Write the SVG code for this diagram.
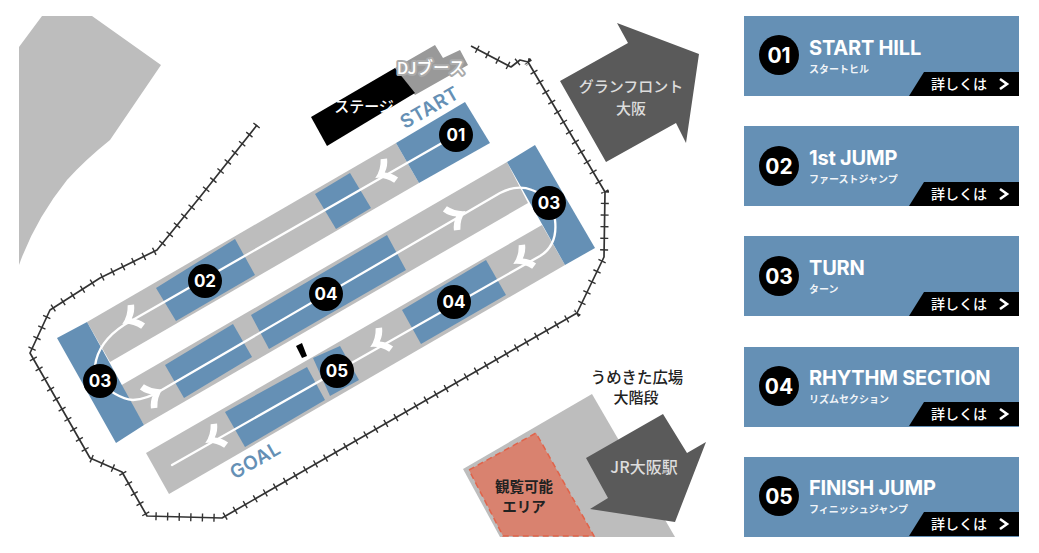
<svg xmlns="http://www.w3.org/2000/svg" xmlns:xlink="http://www.w3.org/1999/xlink" width="1039" height="553" viewBox="0 0 1039 553">
<defs>
<style>
.gray{fill:#bdbdbd}
.blue{fill:#6590b5}
.dark{fill:#5a5a5a}
.route{fill:none;stroke:#fff;stroke-width:2.3;stroke-linecap:round;stroke-linejoin:round}
.rail{fill:none;stroke:#333;stroke-width:1.7;stroke-linejoin:round}
.ties{fill:none;stroke:#333;stroke-width:8;stroke-dasharray:1.4 10.2}
.t{font-family:"Noto Sans CJK JP","Noto Sans",sans-serif;text-anchor:middle}
.badge{fill:#000}
.num{font-family:Inter,"Liberation Sans",sans-serif;font-weight:700;fill:#fff;text-anchor:middle;dominant-baseline:central}
.m{font-size:17px}
.c{font-size:21px}
.title{font-family:Inter,"Liberation Sans",sans-serif;font-weight:700;font-size:20px;letter-spacing:-.2px;fill:#fff}
.sub{font-family:"Noto Sans CJK JP",sans-serif;font-weight:700;font-size:10px;fill:#fff;fill-opacity:.92}
.more{font-family:"Noto Sans CJK JP",sans-serif;font-weight:500;font-size:14px;fill:#fff}
.chev{fill:none;stroke:#fff;stroke-width:2.6}
</style>
<path id="head" fill="#fff" d="M2,0Q-7,-4 -12,-13.5L-18,-11Q-15,-4 -9,0Q-15,4 -18,11L-12,13.5Q-7,4 2,0Z"/>
<g id="more-tab"><path d="M924,0H1019V24H909Z" fill="#000"/></g>
</defs>

<g id="background-shapes">
<path class="gray" d="M42,16H92L161,65L110,140Q85,160 67,180Q35,220 19,265V47Z"/>
<path class="gray" d="M463,469L592,394L675,537H500Z"/>
<path d="M469,470L536,433L594,536H503Z" fill="#d9826f" stroke="#e0634a" stroke-width="1.5" stroke-dasharray="6 4"/>
<path class="dark" d="M617,23L699,54L686,143L676,123L606,162L560,81L628,43Z"/>
<path class="dark" d="M663,414L687,453L706,442L675,522L590,509L608,498L586,458Z"/>
</g>

<g id="rail">
<path id="railway" class="rail" d="M257,125L200,197L157,250L100,278L50,310L30,353L90,458L122,472L147,516L222,518L577,313L604,257L605,192L528,62L520,60L511,67L471,46"/>
<path class="ties" d="M257,125L200,197L157,250L100,278L50,310L30,353L90,458L122,472L147,516L222,518L577,313L604,257L605,192L528,62L520,60L511,67L471,46"/>
</g>

<g id="stage">
<path d="M395,68L435,45L443,58L460,50L468,65L415,95Z" fill="#999"/>
<path d="M311,117L395,68L415,93L327,146Z" fill="#000"/>
</g>

<g id="course">
<path class="gray" d="M396,143L87,322L110,362L419,183Z"/>
<path class="gray" d="M507,162L120,386L144,425L528,203Z"/>
<path class="gray" d="M542,225L146,453L169,494L565,265Z"/>
<path class="blue" d="M465,102L490,143L419,183L396,143Z"/>
<path class="blue" d="M350,173L371,208L336,229L315,194Z"/>
<path class="blue" d="M235,239L255,275L176,321L156,288Z"/>
<path class="blue" d="M507,162L535,145L595,248L565,265Z"/>
<path class="blue" d="M57,338L87,322L144,425L116,443Z"/>
<path class="blue" d="M387,235L406,270L269,349L251,315Z"/>
<path class="blue" d="M233,324L252,357L184,398L165,365Z"/>
<path class="blue" d="M486,260L506,295L421,344L402,310Z"/>
<path class="blue" d="M340,346L359,380L330,396L313,358Z"/>
<path class="blue" d="M307,367L325,400L245,447L225,412Z"/>
<path d="M296,346L302,343L307,356L302,358Z" fill="#000"/>
</g>

<g id="connectors">
<path class="route" d="M456,135L124,325Q98,342 95,366L100,381"/>
<path class="route" d="M100,381Q115,398 133,400Q147,399 160,391L500,193Q517,184 532,190Q549,196 555,220Q558,245 540,256L172,465"/>
<use xlink:href="#head" href="#head" transform="translate(377,177) rotate(150)"/>
<use xlink:href="#head" href="#head" transform="translate(124,323) rotate(150)"/>
<use xlink:href="#head" href="#head" transform="translate(161,390) rotate(-30)"/>
<use xlink:href="#head" href="#head" transform="translate(464,212) rotate(-30)"/>
<use xlink:href="#head" href="#head" transform="translate(515,263) rotate(150)"/>
<use xlink:href="#head" href="#head" transform="translate(372,346) rotate(150)"/>
<use xlink:href="#head" href="#head" transform="translate(207,442) rotate(150)"/>
</g>

<g id="map-labels">
<text class="t" x="364" y="112" font-size="15" font-weight="500" fill="#fff">ステージ</text>
<text class="t" x="431" y="74" font-size="16.5" font-weight="500" fill="#fff" stroke="#aaa" stroke-width="4" stroke-linejoin="round" paint-order="stroke">DJブース</text>
<text x="430" y="114" transform="rotate(-30 430 108)" font-family="Inter,'Liberation Sans',sans-serif" font-weight="600" font-size="19" letter-spacing=".5" fill="#6590b5" text-anchor="middle">START</text>
<text x="255" y="467" transform="rotate(-30 255 460)" font-family="Inter,'Liberation Sans',sans-serif" font-weight="600" font-size="19" letter-spacing=".5" fill="#6590b5" text-anchor="middle">GOAL</text>
<text class="t" x="631" y="92" font-size="15" font-weight="500" fill="#ddd">グランフロント</text>
<text class="t" x="631" y="114" font-size="15" font-weight="500" fill="#ddd">大阪</text>
<text class="t" x="637" y="383" font-size="15.4" font-weight="500" fill="#222">うめきた広場</text>
<text class="t" x="636" y="403" font-size="15" font-weight="500" fill="#222">大階段</text>
<text class="t" x="524" y="492" font-size="14.5" font-weight="700" fill="#222">観覧可能</text>
<text class="t" x="524" y="512" font-size="14.5" font-weight="700" fill="#222">エリア</text>
<text class="t" x="644" y="473" font-size="16" font-weight="500" fill="#ddd">JR大阪駅</text>
</g>

<g id="marker-01"><circle class="badge" cx="456" cy="135" r="17"/><text class="num m" x="456" y="135">01</text></g>
<g id="marker-02"><circle class="badge" cx="205" cy="281" r="17"/><text class="num m" x="205" y="281">02</text></g>
<g id="marker-03a"><circle class="badge" cx="549" cy="203" r="17"/><text class="num m" x="549" y="203">03</text></g>
<g id="marker-03b"><circle class="badge" cx="100" cy="381" r="17"/><text class="num m" x="100" y="381">03</text></g>
<g id="marker-04a"><circle class="badge" cx="326" cy="294" r="17"/><text class="num m" x="326" y="294">04</text></g>
<g id="marker-04b"><circle class="badge" cx="454" cy="302" r="17"/><text class="num m" x="454" y="302">04</text></g>
<g id="marker-05"><circle class="badge" cx="337" cy="371" r="17"/><text class="num m" x="337" y="371">05</text></g>

<g id="card-01">
<rect class="blue" x="744" y="16" width="275" height="80"/>
<circle class="badge" cx="779" cy="55" r="20"/><text class="num c" x="779" y="55">01</text>
<text class="title" x="809" y="55">START HILL</text>
<text class="sub" x="809" y="73">スタートヒル</text>
<use xlink:href="#more-tab" href="#more-tab" y="72"/>
<text class="more" x="931" y="89">詳しくは</text>
<path class="chev" d="M1000,79L1007,84L1000,89"/>
</g>
<g id="card-02">
<rect class="blue" x="744" y="126" width="275" height="80"/>
<circle class="badge" cx="779" cy="166" r="20"/><text class="num c" x="779" y="166">02</text>
<text class="title" x="809" y="165">1st JUMP</text>
<text class="sub" x="809" y="183">ファーストジャンプ</text>
<use xlink:href="#more-tab" href="#more-tab" y="182"/>
<text class="more" x="931" y="199">詳しくは</text>
<path class="chev" d="M1000,189L1007,194L1000,199"/>
</g>
<g id="card-03">
<rect class="blue" x="744" y="236" width="275" height="80"/>
<circle class="badge" cx="779" cy="276" r="20"/><text class="num c" x="779" y="276">03</text>
<text class="title" x="809" y="275">TURN</text>
<text class="sub" x="809" y="293">ターン</text>
<use xlink:href="#more-tab" href="#more-tab" y="292"/>
<text class="more" x="931" y="309">詳しくは</text>
<path class="chev" d="M1000,299L1007,304L1000,309"/>
</g>
<g id="card-04">
<rect class="blue" x="744" y="347" width="275" height="80"/>
<circle class="badge" cx="779" cy="386" r="20"/><text class="num c" x="779" y="386">04</text>
<text class="title" x="809" y="385">RHYTHM SECTION</text>
<text class="sub" x="809" y="403">リズムセクション</text>
<use xlink:href="#more-tab" href="#more-tab" y="402"/>
<text class="more" x="931" y="419">詳しくは</text>
<path class="chev" d="M1000,409L1007,414L1000,419"/>
</g>
<g id="card-05">
<rect class="blue" x="744" y="457" width="275" height="80"/>
<circle class="badge" cx="779" cy="496" r="20"/><text class="num c" x="779" y="496">05</text>
<text class="title" x="809" y="495">FINISH JUMP</text>
<text class="sub" x="809" y="513">フィニッシュジャンプ</text>
<use xlink:href="#more-tab" href="#more-tab" y="512"/>
<text class="more" x="931" y="529">詳しくは</text>
<path class="chev" d="M1000,519L1007,524L1000,529"/>
</g>
</svg>
